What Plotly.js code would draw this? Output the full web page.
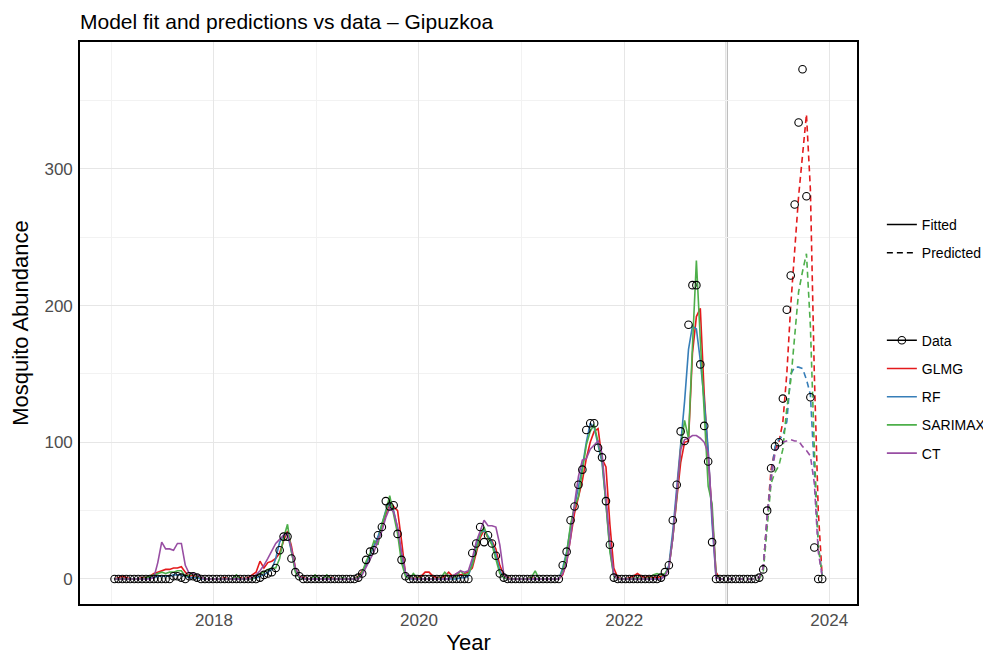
<!DOCTYPE html>
<html>
<head>
<meta charset="utf-8">
<script src="https://cdn.plot.ly/plotly-3.0.1.min.js"></script>
<style>
  html, body { margin: 0; padding: 0; background: #ffffff; }
  #chart { width: 983px; height: 655px; }
</style>
</head>
<body>
<div id="chart"></div>
<script>
// Trap counts are sampled every 14 days, starting in January 2017.
const firstSample = '2017-01-12';
const sampleStepDays = 14;
const forecastStart = '2023-01-01';
const fittedCount = 156;   // samples before the forecast window

// Observed mosquito abundance (one row per year)
const observed = [
  0,0,0,0,0,0,0,0,0,0,0,0,0,0,0,2,2,1,0,2,2,1,0,0,0,0,                      // 2017
  0,0,0,0,0,0,0,0,0,0,0,1,3,4,5,8,21,31,31,15,5,2,0,0,0,0,                  // 2018
  0,0,0,0,0,0,0,0,0,0,1,4,14,20,21,32,38,57,53,54,33,14,2,0,0,0,            // 2019
  0,0,0,0,0,0,0,0,0,0,0,0,0,19,26,38,27,32,26,17,4,1,0,0,0,0,               // 2020
  0,0,0,0,0,0,0,0,0,0,10,20,43,53,69,80,109,114,114,96,89,57,25,1,0,0,      // 2021
  0,0,0,0,0,0,0,0,0,1,5,10,43,69,108,101,186,215,215,157,112,86,27,0,0,0,   // 2022
  0,0,0,0,0,0,0,0,1,7,50,81,97,100,132,197,222,274,334,373,280,133,23,0,0   // 2023
];

// In-sample fits, 2017-2022
const glmgFitted = [
  0,1,2,1,0,0,0,1,1,2,4,5,6,7,7,8,8,9,5,2,3,1,1,0,0,0,
  0,0,1,0,0,0,1,0,1,3,5,13,8,12,13,15,19,28,35,24,8,2,1,0,0,0,
  0,0,0,1,0,0,0,0,0,0,2,6,10,18,24,30,38,47,56,53,50,28,4,1,0,1,
  2,5,5,2,1,1,2,5,2,4,3,4,5,8,20,30,36,30,28,22,10,3,1,0,0,0,
  0,0,1,0,0,0,0,0,0,0,3,12,30,48,60,72,88,100,108,110,88,82,40,8,1,0,
  0,1,2,4,2,1,2,1,1,2,3,8,30,58,85,100,101,165,192,198,135,90,48,5,0,0
];
const rfFitted = [
  0,0,0,0,0,0,0,0,0,1,1,2,2,2,2,3,3,3,2,1,1,1,0,0,0,0,
  0,0,0,0,0,0,0,0,0,0,1,2,3,5,7,15,27,32,33,20,6,1,0,0,0,0,
  0,0,0,0,0,0,0,0,0,0,1,5,11,18,25,31,40,50,56,50,37,17,4,0,0,0,
  0,0,0,0,0,0,0,0,0,0,1,1,2,12,24,33,36,31,27,18,6,1,0,0,0,0,
  0,0,0,0,0,0,0,0,0,0,8,20,38,52,66,82,100,114,111,97,85,55,22,2,0,0,
  0,0,0,0,0,0,0,0,0,0,3,10,35,65,100,130,168,185,183,160,130,95,40,1,0,0
];
const sarimaxFitted = [
  0,0,0,0,0,0,0,0,1,2,3,4,5,4,5,5,6,6,2,3,4,2,1,0,0,0,
  0,0,0,0,0,3,0,0,0,0,2,4,5,7,8,8,15,30,40,20,5,1,0,0,0,3,
  0,0,3,0,0,0,1,0,0,0,1,5,13,19,28,25,40,49,61,47,33,12,2,0,4,1,
  0,0,0,0,0,1,5,2,1,2,6,3,4,10,22,32,38,30,25,15,4,1,0,0,0,0,
  0,0,1,6,0,0,0,0,0,0,6,18,40,53,60,78,98,108,113,100,88,55,20,2,0,0,
  0,0,0,1,0,0,1,3,4,3,4,8,30,60,95,116,103,170,233,175,118,68,55,3,0,0
];
const ctFitted = [
  0,0,0,0,0,0,0,0,0,0,1,12,27,22,22,21,26,26,10,4,4,3,1,0,0,0,
  0,0,0,0,0,0,0,0,0,1,3,6,10,15,21,26,29,32,33,22,8,2,0,0,0,0,
  0,0,0,0,0,0,0,0,0,0,0,3,9,15,20,28,35,45,52,49,38,20,5,1,0,0,
  0,0,0,0,0,0,0,0,2,4,6,5,6,15,27,35,43,39,39,38,25,4,0,0,0,0,
  0,0,0,0,0,0,0,0,0,0,4,12,30,55,75,87,88,95,98,101,92,60,27,3,0,0,
  0,0,0,0,0,0,0,0,0,0,2,8,30,60,95,102,103,105,105,103,100,92,45,1,0,0
];

// Out-of-sample predictions, 2023
const glmgPredicted    = [0,0,0,0,0,0,0,0,1,8,45,80,95,100,115,150,200,240,280,310,340,285,150,50,2];
const rfPredicted      = [0,0,0,0,0,0,0,0,1,8,45,75,97,102,105,115,150,155,155,154,146,135,80,25,2];
const sarimaxPredicted = [0,0,0,0,0,0,0,0,0,5,35,70,78,83,95,125,145,180,210,225,238,185,95,25,2];
const ctPredicted      = [0,0,0,0,0,0,0,0,1,8,45,72,92,98,100,101,102,101,101,97,94,90,70,20,2];

const models = [
  { name: 'GLMG',    color: '#E41A1C', fitted: glmgFitted,    predicted: glmgPredicted },
  { name: 'RF',      color: '#377EB8', fitted: rfFitted,      predicted: rfPredicted },
  { name: 'SARIMAX', color: '#4DAF4A', fitted: sarimaxFitted, predicted: sarimaxPredicted },
  { name: 'CT',      color: '#984EA3', fitted: ctFitted,      predicted: ctPredicted }
];

// Sample dates
const startMs = Date.parse(firstSample + 'T00:00:00Z');
const dates = observed.map((_, i) =>
  new Date(startMs + i * sampleStepDays * 86400000).toISOString().slice(0, 10));
const fittedDates = dates.slice(0, fittedCount);
const predictedDates = dates.slice(fittedCount);

const LINE_W = 1.6;
const DASH = '6px,4px';
const MARKER = { symbol: 'circle-open', size: 7.5, color: '#000', line: { width: 1.1, color: '#000' } };
const traces = [];

// Line-type key
traces.push({ x: [null], y: [null], type: 'scatter', mode: 'lines', name: 'Fitted',
  line: { color: '#000', width: LINE_W }, legend: 'legend', legendgroup: 'fit', hoverinfo: 'skip' });
traces.push({ x: [null], y: [null], type: 'scatter', mode: 'lines', name: 'Predicted',
  line: { color: '#000', width: LINE_W, dash: DASH }, legend: 'legend', legendgroup: 'pred', hoverinfo: 'skip' });

// Series key entry for the observations
traces.push({ x: [null], y: [null], type: 'scatter', mode: 'lines+markers', name: 'Data',
  line: { color: '#000', width: LINE_W }, marker: MARKER,
  legend: 'legend2', legendgroup: 'data', hoverinfo: 'skip' });

models.forEach(m => {
  traces.push({ x: fittedDates, y: m.fitted, type: 'scatter', mode: 'lines', name: m.name,
    line: { color: m.color, width: LINE_W }, legend: 'legend2', legendgroup: m.name });
});
models.forEach(m => {
  traces.push({ x: predictedDates, y: m.predicted, type: 'scatter', mode: 'lines', name: m.name,
    line: { color: m.color, width: LINE_W, dash: DASH }, showlegend: false, legendgroup: m.name });
});

// Observations on top
traces.push({ x: dates, y: observed, type: 'scatter', mode: 'markers', name: 'Data', showlegend: false,
  marker: MARKER });

const gridMajor = '#e6e6e6';
const gridMinor = '#f2f2f2';
const tickFont = { family: 'Liberation Sans, Arial, sans-serif', size: 17, color: '#4d4d4d' };
const legendBase = { xanchor: 'left', yanchor: 'top', font: { size: 14, color: '#000' },
  traceorder: 'grouped', tracegroupgap: 7, bgcolor: 'rgba(0,0,0,0)', borderwidth: 0, itemwidth: 30 };

const layout = {
  width: 983, height: 655,
  margin: { l: 80, r: 126, t: 42, b: 51, autoexpand: false },
  paper_bgcolor: '#ffffff', plot_bgcolor: '#ffffff',
  font: { family: 'Liberation Sans, Arial, sans-serif', color: '#000' },
  showlegend: true,
  title: { text: 'Model fit and predictions vs data \u2013 Gipuzkoa', x: 0, xref: 'paper', xanchor: 'left',
    y: 1 - 22 / 655, yref: 'container', yanchor: 'middle', font: { size: 21, color: '#000' } },
  xaxis: {
    type: 'date', range: ['2016-09-11', '2024-04-09'],
    tick0: '2018-01-01', dtick: 'M24', tickformat: '%Y', ticks: '',
    showgrid: true, gridcolor: gridMajor, gridwidth: 1,
    minor: { dtick: 'M12', tick0: '2017-01-01', showgrid: true, gridcolor: gridMinor, gridwidth: 1 },
    showline: true, mirror: true, linecolor: '#000', linewidth: 1.6, zeroline: false,
    tickfont: tickFont,
    title: { text: 'Year', font: { size: 22, color: '#000' }, standoff: 13 }
  },
  yaxis: {
    range: [-18.3, 392.9], tick0: 0, dtick: 100, ticks: '',
    showgrid: true, gridcolor: gridMajor, gridwidth: 1,
    minor: { dtick: 50, tick0: 0, showgrid: true, gridcolor: gridMinor, gridwidth: 1 },
    showline: true, mirror: true, linecolor: '#000', linewidth: 1.6, zeroline: false,
    tickfont: tickFont, ticklabelstandoff: 2,
    title: { text: 'Mosquito Abundance', font: { size: 22, color: '#000' }, standoff: 10 }
  },
  legend: Object.assign({ x: 1.032, y: 0.703 }, legendBase),
  legend2: Object.assign({ x: 1.032, y: 0.497 }, legendBase),
  shapes: [{
    type: 'line', xref: 'x', yref: 'paper', x0: forecastStart, x1: forecastStart, y0: 0, y1: 1,
    line: { color: '#a3a3a3', width: 2 }, layer: 'below'
  }]
};

Plotly.newPlot('chart', traces, layout, { displayModeBar: false, responsive: false });
</script>
</body>
</html>
